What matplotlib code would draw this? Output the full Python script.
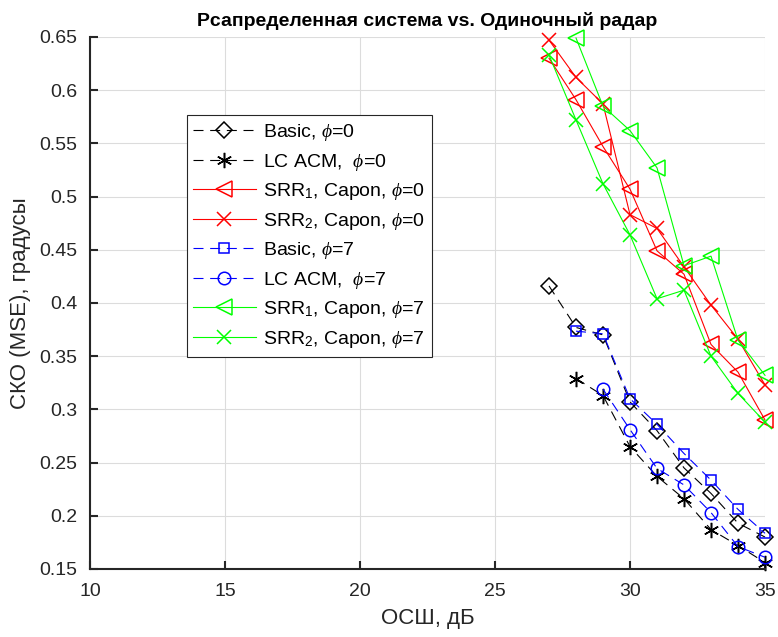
import matplotlib
matplotlib.use("Agg")
import matplotlib.pyplot as plt

plt.rcParams['font.family'] = ['Liberation Sans', 'DejaVu Sans']
plt.rcParams['mathtext.fontset'] = 'custom'
plt.rcParams['mathtext.rm'] = 'Liberation Sans'
plt.rcParams['mathtext.it'] = 'Liberation Serif:italic'

# SNR, dB
snr_basic0 = [27, 28, 29, 30, 31, 32, 33, 34, 35]
mse_basic0 = [0.416, 0.377, 0.370, 0.307, 0.280, 0.245, 0.221, 0.193, 0.180]

snr_lc0 = [28, 29, 30, 31, 32, 33, 34, 35]
mse_lc0 = [0.329, 0.313, 0.265, 0.237, 0.216, 0.187, 0.172, 0.156]

snr_srr1_0 = [27, 28, 29, 30, 31, 32, 33, 34, 35]
mse_srr1_0 = [0.630, 0.591, 0.547, 0.507, 0.449, 0.427, 0.361, 0.335, 0.290]

snr_srr2_0 = [27, 28, 29, 30, 31, 32, 33, 34, 35]
mse_srr2_0 = [0.647, 0.612, 0.587, 0.483, 0.470, 0.434, 0.398, 0.366, 0.323]

snr_basic7 = [28, 29, 30, 31, 32, 33, 34, 35]
mse_basic7 = [0.3735, 0.371, 0.310, 0.286, 0.2585, 0.2335, 0.206, 0.1835]

snr_lc7 = [29, 30, 31, 32, 33, 34, 35]
mse_lc7 = [0.319, 0.281, 0.2445, 0.229, 0.203, 0.171, 0.161]

snr_srr1_7 = [28, 29, 30, 31, 32, 33, 34, 35]
mse_srr1_7 = [0.649, 0.585, 0.562, 0.527, 0.435, 0.444, 0.365, 0.332]

snr_srr2_7 = [27, 28, 29, 30, 31, 32, 33, 34, 35]
mse_srr2_7 = [0.633, 0.572, 0.512, 0.464, 0.404, 0.412, 0.350, 0.315, 0.288]

labels = [r'Basic, $\phi$=0', r'LC ACM,  $\phi$=0',
          r'SRR$_1$, Capon, $\phi$=0', r'SRR$_2$, Capon, $\phi$=0',
          r'Basic, $\phi$=7', r'LC ACM,  $\phi$=7',
          r'SRR$_1$, Capon, $\phi$=7', r'SRR$_2$, Capon, $\phi$=7']

fig = plt.figure(figsize=(7.78, 6.37), dpi=100)
ax = fig.add_axes([0.1157, 0.1068, 0.8676, 0.8352])

red = '#ff0000'
green = '#00ff00'
blue = '#0000ff'
lw = 0.8
dash = (0, (9, 6))

series = [
    (snr_basic0, mse_basic0, 'k', dash, 'D', 8.5, 'none'),
    (snr_lc0, mse_lc0, 'k', dash, (6, 2, 0), 11, 'k'),
    (snr_srr1_0, mse_srr1_0, red, '-', '<', 11, 'none'),
    (snr_srr2_0, mse_srr2_0, red, '-', 'x', 10, red),
    (snr_basic7, mse_basic7, blue, dash, 's', 7.5, 'none'),
    (snr_lc7, mse_lc7, blue, dash, 'o', 9, 'none'),
    (snr_srr1_7, mse_srr1_7, green, '-', '<', 11, 'none'),
    (snr_srr2_7, mse_srr2_7, green, '-', 'x', 10, green),
]
for (x, y, c, ls, mk, ms, mfc), lab in zip(series, labels):
    ax.plot(x, y, color=c, ls=ls, lw=lw, marker=mk, ms=ms, mfc=mfc,
            mew=1.1, label=lab, clip_on=False)

ax.set_xlim(10, 35)
ax.set_ylim(0.15, 0.65)
ax.set_xticks([10, 15, 20, 25, 30, 35])
ax.set_yticks([0.15, 0.2, 0.25, 0.3, 0.35, 0.4, 0.45, 0.5, 0.55, 0.6, 0.65])
ax.set_yticklabels(['0.15', '0.2', '0.25', '0.3', '0.35', '0.4', '0.45',
                    '0.5', '0.55', '0.6', '0.65'])
ax.grid(True, color='#dcdcdc', lw=0.8)
ax.set_axisbelow(True)
for s in ['top', 'right']:
    ax.spines[s].set_visible(False)
for s in ['left', 'bottom']:
    ax.spines[s].set_color('#262626')
    ax.spines[s].set_linewidth(1.5)
ax.tick_params(direction='in', length=6, width=1.5, labelsize=14,
               colors='#262626')
ax.tick_params(axis='x', pad=10)
ax.tick_params(axis='y', pad=9)

ax.set_title('Рсапределенная система vs. Одиночный радар', fontsize=14,
             fontweight='bold', pad=8)
ax.set_xlabel('ОСШ, дБ', fontsize=16, color='#262626', labelpad=6)
ax.set_ylabel('СКО (MSE), градусы', fontsize=16, color='#262626',
              labelpad=6)

leg = ax.legend(loc='upper left', bbox_to_anchor=(0.143, 0.853), fontsize=14,
                frameon=True, fancybox=False, edgecolor='#262626',
                framealpha=1, handlelength=3.2, handletextpad=0.4,
                borderpad=0.35, labelspacing=0.44, borderaxespad=0)
leg.get_frame().set_linewidth(0.8)

fig.savefig('out.png', dpi=100)
